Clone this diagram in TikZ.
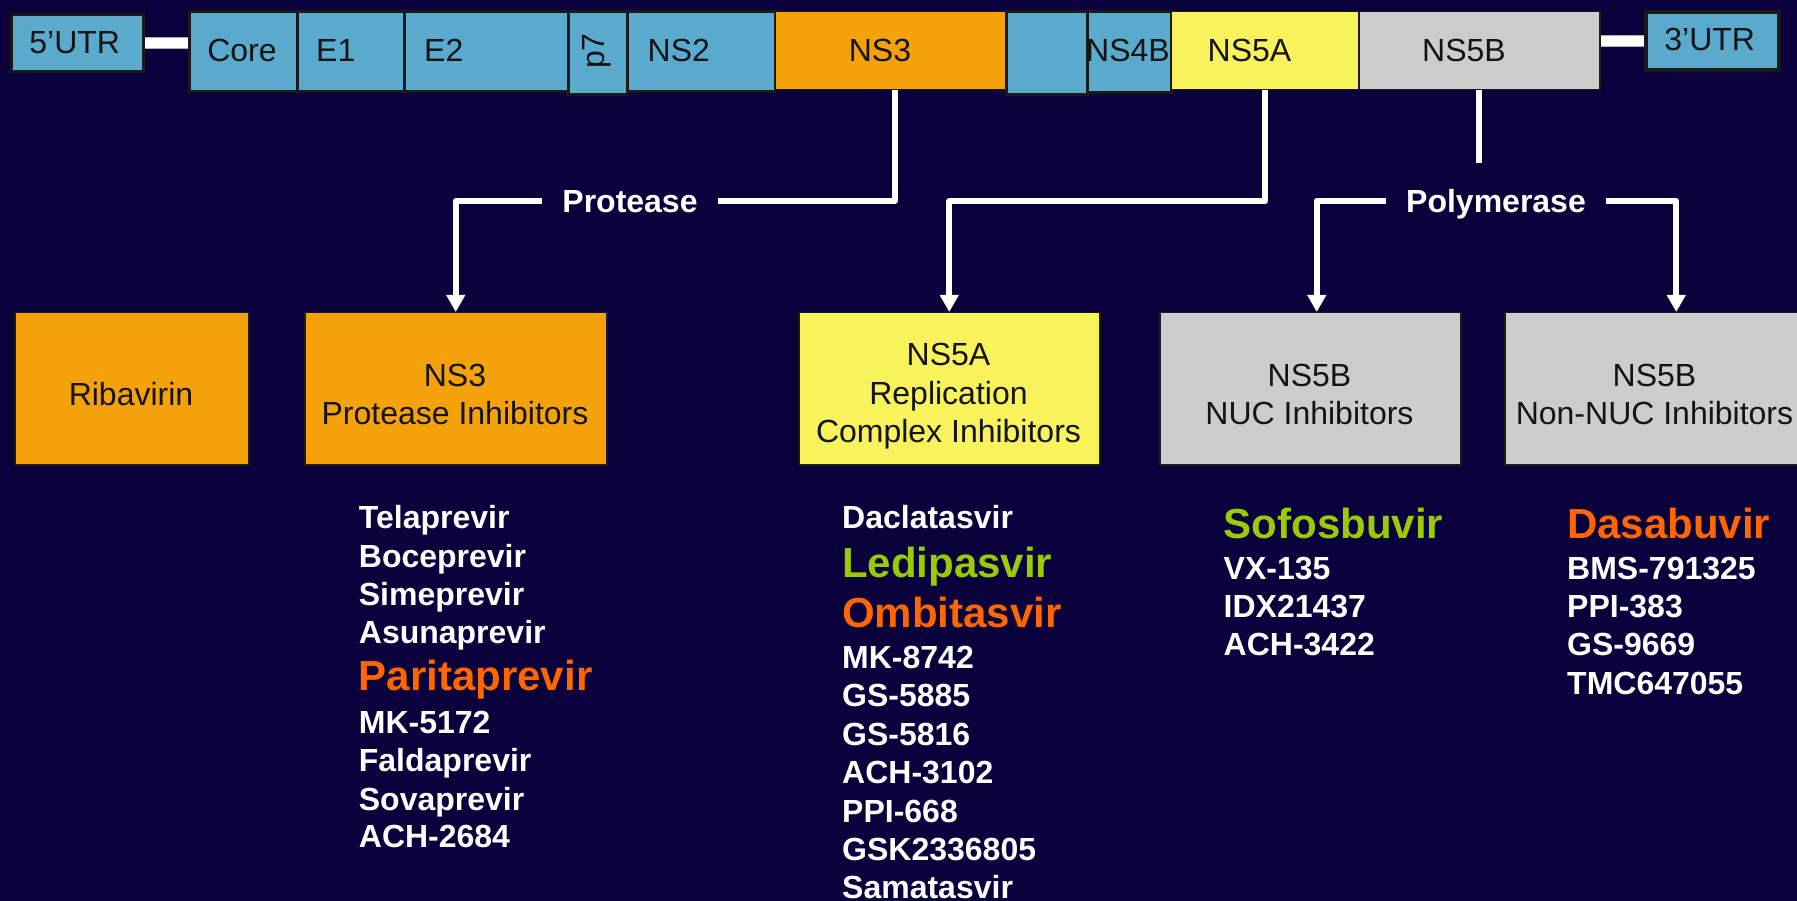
\documentclass[tikz,border=0pt]{standalone}
\usepackage{fontspec}
\setmainfont{Liberation Sans}
\usetikzlibrary{arrows.meta,calc}
\definecolor{bg}{RGB}{10,0,60}
\definecolor{hcvblue}{RGB}{90,170,206}
\definecolor{hcvorange}{RGB}{245,162,10}
\definecolor{hcvyellow}{RGB}{248,242,92}
\definecolor{hcvgray}{RGB}{204,204,204}
\definecolor{edgecol}{RGB}{26,26,26}
\definecolor{drugGreen}{RGB}{153,204,0}
\definecolor{drugOrange}{RGB}{255,102,0}
\begin{document}
\begin{tikzpicture}[x=1pt,y=-1pt,
  gene/.style={draw=edgecol, line width=3pt, fill=hcvblue, inner sep=0pt, anchor=north west},
  flat/.style={draw=edgecol, line width=1.5pt, inner sep=0pt, anchor=north west},
  lbl/.style={font=\fontsize{32}{38}\selectfont, text=black!92, inner sep=0pt, anchor=base},
  lblw/.style={lbl, anchor=base west},
  drug/.style={font=\bfseries\fontsize{32}{38}\selectfont, text=white, inner sep=0pt, anchor=base west},
  bigdrug/.style={font=\bfseries\fontsize{42}{50}\selectfont, inner sep=0pt, anchor=base west},
  conn/.style={draw=white, line width=6pt, line join=round},
  arr/.style={conn, -{Triangle[width=18pt,length=17pt]}},
  branch/.style={font=\bfseries\fontsize{32}{38}\selectfont, text=white, inner xsep=20pt, inner ysep=0pt, text height=30pt, text depth=6.6pt},
  utrbar/.style={draw=gray!60, line width=0.8pt, double=white, double distance=10pt}
]
\useasboundingbox (0,0) rectangle (1797,901);
\fill[bg] (0,0) rectangle (1797,901);
\clip (0,0) rectangle (1797,901);

% genome bar
\node[gene, minimum width=132pt, minimum height=57pt] (utr5) at (10,13) {};
\node[gene, minimum width=108pt, minimum height=80pt] (core) at (188,10) {};
\node[gene, minimum width=107pt, minimum height=80pt] (e1) at (296,10) {};
\node[gene, minimum width=164pt, minimum height=80pt] (e2) at (403,10) {};
\node[gene, minimum width=59pt, minimum height=83pt] (p7) at (567,10) {};
\node[gene, minimum width=148pt, minimum height=80pt] (ns2) at (626,10) {};
\node[flat, fill=hcvorange, minimum width=231pt, minimum height=78pt] (ns3) at (774,11) {};
\node[gene, minimum width=81pt, minimum height=83pt] (ns4a) at (1005,10) {};
\node[gene, minimum width=84pt, minimum height=81pt] (ns4b) at (1086,10) {};
\node[flat, fill=hcvyellow, minimum width=188pt, minimum height=78pt] (ns5a) at (1170,11) {};
\node[flat, fill=hcvgray, minimum width=241pt, minimum height=78pt] (ns5b) at (1358,11) {};
\node[gene, line width=4pt, minimum width=133pt, minimum height=58pt] (utr3) at (1644,10) {};

\draw[utrbar, yshift=-1pt] (utr5.east) -- (utr5.east -| core.west);
\draw[utrbar, yshift=-3.5pt] (utr3.west) -- (utr3.west -| ns5b.east);

\node[lbl] (t-utr5) at (74.7,53.3) {5’UTR};
\node[lbl] (t-utr3) at (1709.7,50.7) {3’UTR};
\node[lbl] (t-core) at (242,62) {Core};
\node[lblw] (t-e1) at (316,62) {E1};
\node[lblw] (t-e2) at (424,62) {E2};
\node[lbl, rotate=90, anchor=center] (t-p7) at (597,51) {p7};
\node[lblw] (t-ns2) at (647.5,62) {NS2};
\node[lbl] (t-ns3) at (880,62) {NS3};
\node[lbl] (t-ns4b) at (1128,62) {NS4B};
\node[lbl] (t-ns5a) at (1249.5,62) {NS5A};
\node[lbl] (t-ns5b) at (1464,62) {NS5B};

% target classes
\node[flat, fill=hcvorange, minimum width=234pt, minimum height=152pt] (rib) at (14,312) {};
\node[flat, fill=hcvorange, minimum width=302pt, minimum height=152pt] (ns3pi) at (304,312) {};
\node[flat, fill=hcvyellow, minimum width=301pt, minimum height=152pt] (ns5api) at (798,312) {};
\node[flat, fill=hcvgray, minimum width=301pt, minimum height=152pt] (nuc) at (1159,312) {};
\node[flat, fill=hcvgray, minimum width=301pt, minimum height=152pt] (nonnuc) at (1504,312) {};

\node[lbl] (t-rib) at (131,405) {Ribavirin};
\node[lbl] (t-ns3pi1) at (455,386) {NS3};
\node[lbl] (t-ns3pi2) at (455,424) {Protease Inhibitors};
\node[lbl] (t-ns5api1) at (948.5,366) {NS5A};
\node[lbl] (t-ns5api2) at (948.5,404) {Replication};
\node[lbl] (t-ns5api3) at (948.5,442) {Complex Inhibitors};
\node[lbl] (t-nuc1) at (1309.5,386) {NS5B};
\node[lbl] (t-nuc2) at (1309.5,424) {NUC Inhibitors};
\node[lbl] (t-nonnuc1) at (1654.5,386) {NS5B};
\node[lbl] (t-nonnuc2) at (1654.5,424) {Non-NUC Inhibitors};

% branch labels and connectors
\node[branch] (prot) at (630,201) {Protease};
\node[branch] (poly) at (1496,201) {Polymerase};

\draw[conn] ($(ns3.south)+(4.5,0)$) |- (prot.east);
\draw[arr] (prot.west) -| (ns3pi.north);
\draw[arr] (ns5a.south) -- ++(0,111) -| (ns5api.north);
\draw[conn] (ns5b.south) -- ++(0,73);
\draw[arr] (poly.west) -| ($(nuc.north)+(6.5,0)$);
\draw[arr] (poly.east) -| ($(nonnuc.north)+(21,0)$);

% drug lists
\node[drug] (d1) at (358.7,528.3) {Telaprevir};
\node[drug] (d2) at (358.7,567.3) {Boceprevir};
\node[drug] (d3) at (358.7,605.7) {Simeprevir};
\node[drug] (d4) at (358.7,643.3) {Asunaprevir};
\node[bigdrug, text=drugOrange] (d5) at (358.7,690.7) {Paritaprevir};
\node[drug] (d6) at (358.7,733.3) {MK-5172};
\node[drug] (d7) at (358.7,771) {Faldaprevir};
\node[drug] (d8) at (358.7,810) {Sovaprevir};
\node[drug] (d9) at (358.7,847.7) {ACH-2684};

\node[drug] (a1) at (842,528.3) {Daclatasvir};
\node[bigdrug, text=drugGreen] (a2) at (842,577.3) {Ledipasvir};
\node[bigdrug, text=drugOrange] (a3) at (842,627.7) {Ombitasvir};
\node[drug] (a4) at (842,668.3) {MK-8742};
\node[drug] (a5) at (842,706.7) {GS-5885};
\node[drug] (a6) at (842,745) {GS-5816};
\node[drug] (a7) at (842,783.3) {ACH-3102};
\node[drug] (a8) at (842,822.3) {PPI-668};
\node[drug] (a9) at (842,860) {GSK2336805};
\node[drug] (a10) at (842,898.3) {Samatasvir};

\node[bigdrug, text=drugGreen] (n1) at (1223.5,538.3) {Sofosbuvir};
\node[drug] (n2) at (1223.5,579) {VX-135};
\node[drug] (n3) at (1223.5,617.3) {IDX21437};
\node[drug] (n4) at (1223.5,655.7) {ACH-3422};

\node[bigdrug, text=drugOrange] (m1) at (1567,538.3) {Dasabuvir};
\node[drug] (m2) at (1567,579) {BMS-791325};
\node[drug] (m3) at (1567,617.3) {PPI-383};
\node[drug] (m4) at (1567,655.7) {GS-9669};
\node[drug] (m5) at (1567,694) {TMC647055};
\end{tikzpicture}
\end{document}
